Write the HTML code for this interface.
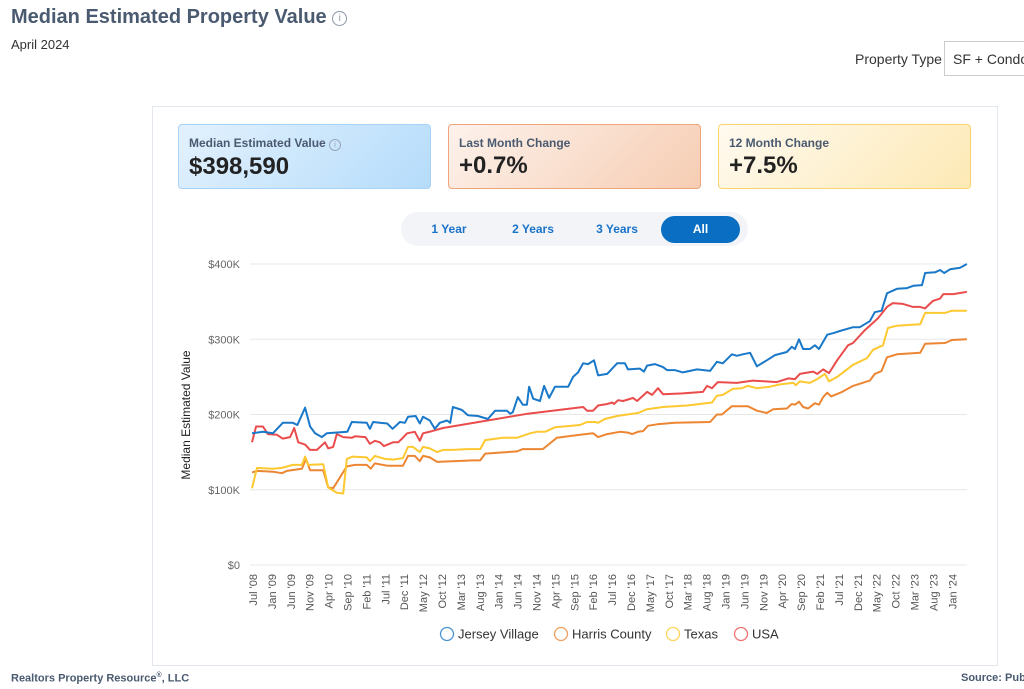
<!DOCTYPE html>
<html><head><meta charset="utf-8">
<style>
*{box-sizing:border-box;margin:0;padding:0}
body{width:1024px;height:689px;overflow:hidden;background:#fff;font-family:"Liberation Sans",sans-serif;position:relative;color:#333}
.abs{position:absolute}
.card{position:absolute;top:124px;width:253px;height:65px;border-radius:4px;padding:11px 10px}
.card .t{font-size:12px;font-weight:bold;color:#4a5a70}
.card .v{font-size:24px;font-weight:bold;color:#222;margin-top:2px}
.tog{position:absolute;top:216px;height:27px;line-height:27px;font-size:12px;font-weight:bold;color:#1a73c8;text-align:center}
</style></head><body>
<div class="abs" style="left:11px;top:6px;font-size:20px;font-weight:bold;color:#4a5a70">Median Estimated Property Value <span style="display:inline-block;width:15px;height:15px;border:1px solid #8a96a6;border-radius:50%;font-size:10px;line-height:13px;text-align:center;color:#8a96a6;vertical-align:2px;font-weight:normal">i</span></div>
<div class="abs" style="left:11px;top:37px;font-size:13px;color:#333">April 2024</div>
<div class="abs" style="left:855px;top:51px;font-size:14px;color:#333">Property Type</div>
<div class="abs" style="left:944px;top:41px;width:90px;height:35px;border:1px solid #ccc;padding:9px 8px;font-size:14px;color:#333;white-space:nowrap">SF + Condo</div>
<div class="abs" style="left:152px;top:106px;width:846px;height:560px;border:1px solid #e3e8ee"></div>
<div class="card" style="left:178px;background:linear-gradient(135deg,#e3f1fd,#b5dcfb);border:1px solid #a6d3f7"><div class="t">Median Estimated Value <span style="display:inline-block;width:12px;height:12px;border:1px solid #9aa6b6;border-radius:50%;font-size:8px;line-height:10px;text-align:center;color:#9aa6b6;font-weight:normal">i</span></div><div class="v">$398,590</div></div>
<div class="card" style="left:448px;background:linear-gradient(135deg,#fdf2ec,#f6cdb3);border:1px solid #efa47c"><div class="t">Last Month Change</div><div class="v">+0.7%</div></div>
<div class="card" style="left:718px;background:linear-gradient(135deg,#fffaf0,#fde9b5);border:1px solid #f9d56c"><div class="t">12 Month Change</div><div class="v">+7.5%</div></div>
<div class="abs" style="left:401px;top:212px;width:347px;height:34px;background:#f2f4f8;border-radius:17px"></div>
<div class="tog" style="left:420px;width:58px">1 Year</div>
<div class="tog" style="left:500px;width:66px">2 Years</div>
<div class="tog" style="left:584px;width:66px">3 Years</div>
<div class="tog" style="left:661px;width:79px;background:#0a6fc2;color:#fff;border-radius:14px">All</div>
<svg id="chart" class="abs" style="left:0;top:0" width="1024" height="689"></svg>
<div class="abs" style="left:11px;top:672px;font-size:11px;font-weight:bold;color:#4a5a70">Realtors Property Resource<sup style="font-size:7px">®</sup>, LLC</div>
<div class="abs" style="left:961px;top:672px;font-size:11px;font-weight:bold;color:#4a5a70;white-space:nowrap">Source: Publ</div>
<script>
const yTicks=[0,100,200,300,400];
const yTickLabels=["$0","$100K","$200K","$300K","$400K"];
const xLabels=["Jul '08","Jan '09","Jun '09","Nov '09","Apr '10","Sep '10","Feb '11","Jul '11","Dec '11","May '12","Oct '12","Mar '13","Aug '13","Jan '14","Jun '14","Nov '14","Apr '15","Sep '15","Feb '16","Jul '16","Dec '16","May '17","Oct '17","Mar '18","Aug '18","Jan '19","Jun '19","Nov '19","Apr '20","Sep '20","Feb '21","Jul '21","Dec '21","May '22","Oct '22","Mar '23","Aug '23","Jan '24"];
const seriesNames=["Jersey Village","Harris County","Texas","USA"];
const jvDates=[2008.5,2008.74,2008.96,2009.18,2009.4,2009.5,2009.67,2009.78,2009.89,2010.04,2010.15,2010.6,2010.7,2011.03,2011.1,2011.17,2011.48,2011.6,2011.76,2011.87,2011.94,2012.11,2012.2,2012.27,2012.42,2012.53,2012.64,2012.8,2012.87,2012.93,2013.13,2013.26,2013.48,2013.7,2013.86,2014.12,2014.19,2014.25,2014.36,2014.47,2014.56,2014.61,2014.7,2014.85,2014.94,2015.05,2015.18,2015.47,2015.58,2015.69,2015.8,2015.91,2016.04,2016.13,2016.33,2016.55,2016.72,2016.79,2017.05,2017.14,2017.21,2017.38,2017.56,2017.65,2017.82,2018.0,2018.31,2018.6,2018.75,2018.88,2019.08,2019.19,2019.32,2019.48,2019.63,2019.85,2020.03,2020.29,2020.4,2020.47,2020.56,2020.65,2020.8,2020.91,2021.0,2021.18,2021.31,2021.46,2021.75,2021.9,2022.12,2022.23,2022.38,2022.5,2022.72,2022.94,2023.08,2023.27,2023.34,2023.56,2023.67,2023.76,2023.89,2024.11,2024.26];
const jvValues=[175,177,175,189,189,186,209,184,175,170,175,177,190,189,181,190,188,181,190,189,197,198,188,197,192,181,189,192,189,210,206,199,198,194,205,205,201,203,223,213,213,237,221,218,238,222,237,237,250,256,268,267,272,252,254,268,268,260,261,257,265,267,263,259,259,256,260,258,270,268,280,278,280,282,264,272,279,283,290,287,300,287,287,292,287,306,308,311,316,316,324,336,338,361,367,368,371,372,388,389,392,388,393,395,400];
const hcDates=[2008.5,2008.61,2008.96,2009.16,2009.27,2009.6,2009.69,2009.78,2010.07,2010.18,2010.29,2010.59,2010.77,2011.03,2011.12,2011.21,2011.48,2011.83,2011.94,2012.09,2012.2,2012.27,2012.42,2012.58,2013.37,2013.53,2013.64,2014.34,2014.47,2014.91,2015.22,2015.73,2016.02,2016.13,2016.33,2016.61,2016.79,2016.88,2017.01,2017.12,2017.23,2017.43,2017.82,2018.6,2018.75,2018.86,2019.08,2019.43,2019.63,2019.85,2019.99,2020.29,2020.4,2020.47,2020.56,2020.65,2020.76,2020.91,2021.0,2021.09,2021.18,2021.27,2021.51,2021.75,2022.12,2022.23,2022.38,2022.5,2022.72,2023.23,2023.34,2023.78,2023.93,2024.26];
const hcValues=[123,125,124,122,125,128,141,126,126,103,102,131,133,133,128,135,132,132,145,145,138,145,143,137,139,139,148,151,154,154,169,173,175,170,174,177,176,174,177,178,185,187,189,190,200,200,211,211,205,202,207,208,214,213,217,210,208,215,213,223,229,224,230,238,245,254,258,276,280,282,294,295,299,300];
const txDates=[2008.5,2008.61,2008.96,2009.16,2009.4,2009.6,2009.67,2009.74,2010.07,2010.18,2010.37,2010.51,2010.59,2010.72,2011.03,2011.1,2011.21,2011.43,2011.61,2011.83,2011.94,2012.05,2012.2,2012.27,2012.42,2012.58,2012.71,2012.93,2013.24,2013.53,2013.64,2014.03,2014.34,2014.63,2014.78,2014.96,2015.18,2015.73,2015.89,2016.06,2016.13,2016.28,2016.55,2017.01,2017.21,2017.56,2018.09,2018.64,2018.75,2018.88,2019.1,2019.3,2019.43,2019.63,2019.92,2020.14,2020.43,2020.49,2020.58,2020.8,2020.96,2021.13,2021.22,2021.4,2021.75,2022.06,2022.19,2022.41,2022.52,2022.72,2023.23,2023.34,2023.78,2023.93,2024.26];
const txValues=[102,129,128,129,133,133,144,133,134,103,96,95,141,144,143,138,145,141,140,142,157,157,150,157,155,150,153,153,154,154,166,169,169,175,177,177,183,186,190,190,189,194,198,202,207,210,212,216,225,226,234,235,238,235,237,240,242,239,244,242,247,254,244,250,266,275,286,292,315,318,320,335,335,338,338];
const usDates=[2008.5,2008.59,2008.74,2008.85,2009.05,2009.18,2009.34,2009.43,2009.52,2009.67,2009.78,2009.93,2010.11,2010.18,2010.29,2010.37,2010.51,2010.7,2010.77,2011.0,2011.1,2011.21,2011.32,2011.41,2011.61,2011.72,2011.81,2011.92,2012.09,2012.2,2012.27,2012.47,2012.71,2014.58,2015.8,2015.89,2016.02,2016.13,2016.33,2016.44,2016.48,2016.57,2016.68,2016.79,2016.9,2016.99,2017.21,2017.32,2017.45,2017.56,2018.0,2018.44,2018.53,2018.64,2018.77,2019.19,2019.54,2020.07,2020.32,2020.47,2020.58,2020.87,2020.96,2021.09,2021.22,2021.4,2021.64,2021.75,2022.01,2022.3,2022.5,2022.63,2022.85,2023.07,2023.23,2023.34,2023.51,2023.67,2023.74,2023.96,2024.26];
const usValues=[163,184,184,174,173,168,170,182,163,160,153,153,163,155,157,174,170,169,171,170,161,165,163,158,163,163,168,175,177,165,175,178,182,201,210,205,205,212,214,216,214,219,218,220,222,218,230,226,235,227,228,230,238,235,243,242,245,243,248,247,254,257,254,260,255,272,292,295,312,328,343,348,347,343,343,341,351,354,360,360,363];
const colors=["#1a78c9","#ec8633","#fdc830","#ea4c4c"];
const NS="http://www.w3.org/2000/svg";
const svg=document.getElementById('chart');
function xS(d){return 252+(d-2008.5)*45.36;}
function yS(v){return 565-v*0.7525;}
function mk(tag,attrs){const e=document.createElementNS(NS,tag);for(const k in attrs)e.setAttribute(k,attrs[k]);svg.appendChild(e);return e;}
yTicks.forEach((t,i)=>{
  const g=mk('line',{x1:250,x2:967,y1:yS(t),y2:yS(t),stroke:'#e8e8e8','stroke-width':1});
  
  
  const l=mk('text',{x:240,y:yS(t)+4,'text-anchor':'end','font-size':11,fill:'#666','font-family':'Liberation Sans, sans-serif'});
  l.textContent=yTickLabels[i];
  
  
});
const yt=mk('text',{transform:'translate(190,415) rotate(-90)','text-anchor':'middle','font-size':12,fill:'#222','font-family':'Liberation Sans, sans-serif'});
yt.textContent='Median Estimated Value';


xLabels.forEach((s,i)=>{
  const x=257+i*18.9;
  const t=mk('text',{transform:`translate(${x},574) rotate(-90)`,'text-anchor':'end','font-size':11,fill:'#555','font-family':'Liberation Sans, sans-serif'});
  t.textContent=s;
  
  
});
const allD=[hcDates,txDates,usDates,jvDates],allV=[hcValues,txValues,usValues,jvValues],ci=[1,2,3,0];
allD.forEach((ds,k)=>{
  const pts=ds.map((d,i)=>xS(d).toFixed(1)+','+yS(allV[k][i]).toFixed(1)).join(' ');
  const p=mk('polyline',{points:pts,fill:'none',stroke:colors[ci[k]],'stroke-width':2,'stroke-linejoin':'round'});
  
  
});
const legX=[447,561,673,741];
seriesNames.forEach((n,i)=>{
  const c=mk('circle',{cx:legX[i],cy:634,r:6.5,fill:'none',stroke:colors[i],'stroke-width':1.3,opacity:0.8});
  
  
  const t=mk('text',{x:legX[i]+11,y:638.5,'font-size':13,fill:'#333','font-family':'Liberation Sans, sans-serif'});
  t.textContent=n;
  
  
});
</script>
</body></html>
